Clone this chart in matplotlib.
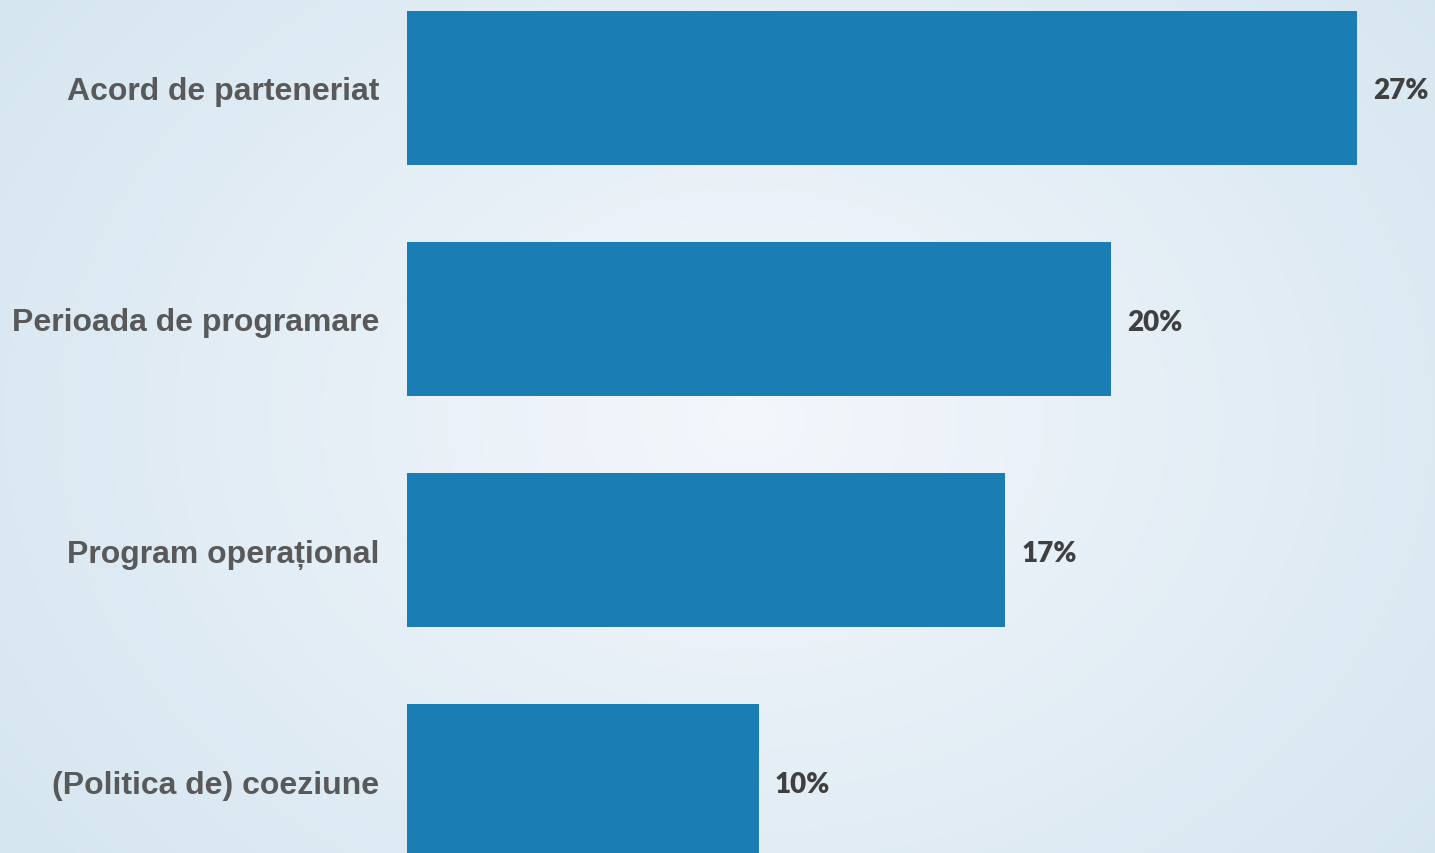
import numpy as np
import matplotlib
matplotlib.use("Agg")
import matplotlib.pyplot as plt

categories = ["Acord de parteneriat", "Perioada de programare",
              "Program operațional", "(Politica de) coeziune"]
values = [27, 20, 17, 10]
labels = ["27%", "20%", "17%", "10%"]

W, H, DPI = 1435, 854, 100
fig = plt.figure(figsize=(W / DPI, H / DPI), dpi=DPI)

# radial background gradient
bg = fig.add_axes([0, 0, 1, 1])
yy, xx = np.mgrid[0:H, 0:W]
r = np.sqrt(((xx - 745) / 900.0) ** 2 + ((yy - 420) / 700.0) ** 2)
r = np.clip(r, 0, 1)
c0 = np.array([0xf4, 0xf7, 0xfc]) / 255.0
c1 = np.array([0xd6, 0xe6, 0xf0]) / 255.0
img = c0[None, None, :] * (1 - r[..., None]) + c1[None, None, :] * r[..., None]
bg.imshow(img, aspect="auto", interpolation="bilinear")
bg.axis("off")

left = 407
ax = fig.add_axes([left / W, 0, (W - left) / W, 1])
ax.patch.set_alpha(0)
pxper = (1357 - left) / 27.0
step = 231.3
y = np.arange(len(categories))
ax.barh(y, values, height=154 / step, color="#1a7db3")
ax.set_xlim(0, (W - left) / pxper)
ax.set_ylim((H - 88.5) / step, -88.5 / step)
for yi, v, lab in zip(y, values, labels):
    ax.annotate(lab, (v, yi), xytext=(16 * 72 / DPI, -2), textcoords="offset points",
                ha="left", va="center", fontsize=20, fontweight="heavy",
                color="#404040", family="Lato")
ax.set_yticks(y)
ax.set_yticklabels(categories, fontsize=23, fontweight="bold", color="#595959",
                   family="Liberation Sans")
ax.tick_params(axis="y", length=0, pad=28 * 72 / DPI)
ax.set_xticks([])
for s in ax.spines.values():
    s.set_visible(False)

fig.savefig("out.png", dpi=DPI)
